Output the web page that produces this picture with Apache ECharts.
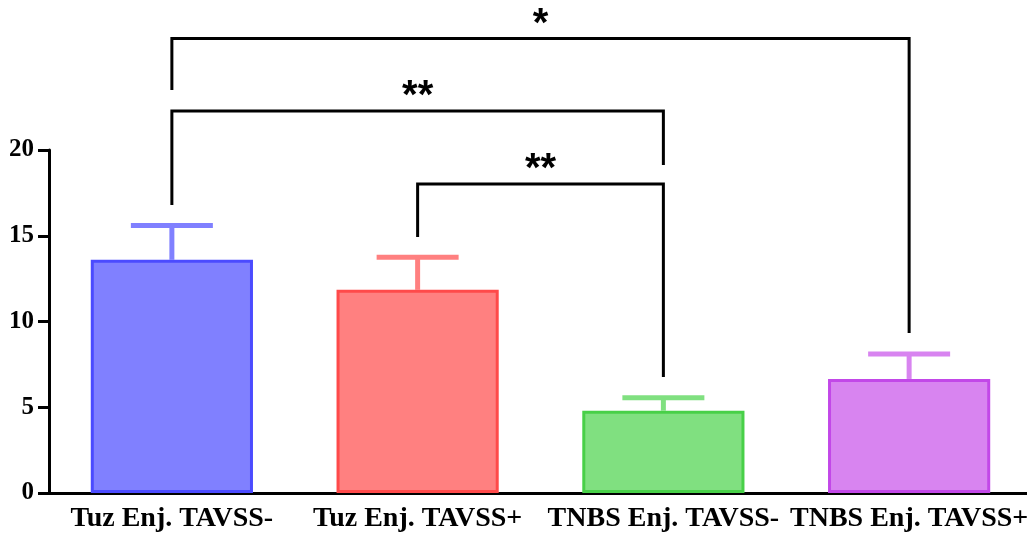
<!DOCTYPE html>
<html>
<head>
<meta charset="utf-8">
<script src="https://cdn.jsdelivr.net/npm/echarts@6/dist/echarts.min.js"></script>
<style>html,body{margin:0;padding:0;background:#fff;overflow:hidden}#c{width:1036px;height:542px}</style>
</head>
<body>
<div id="c"></div>
<script>
const categories = ['Tuz Enj. TAVSS-', 'Tuz Enj. TAVSS+', 'TNBS Enj. TAVSS-', 'TNBS Enj. TAVSS+'];
const means = [13.6, 11.85, 4.8, 6.65];
const errors = [2.0, 1.9, 0.75, 1.45];
const fillColors = ['#8080FF', '#FF8080', '#80E080', '#D884F0'];
const borderColors = ['#4B4BFF', '#FF4A4A', '#48D048', '#C248E8'];
// significance brackets
const bracketFrom = [0, 0, 1];
const bracketTo = [3, 2, 2];
const bracketLevel = [26.5, 22.27, 18.02];
const bracketLeftEnd = [23.5, 16.8, 14.93];
const bracketRightEnd = [9.33, 19.13, 6.76];
const bracketLabels = ['*', '**', '**'];

const chart = echarts.init(document.getElementById('c'));
const black = '#000';
chart.setOption({
  animation: false,
  grid: { left: 49, top: 150, width: 983, bottom: 49, containLabel: false },
  xAxis: {
    type: 'category', data: categories,
    axisLine: { lineStyle: { color: black, width: 3 } },
    axisTick: { alignWithLabel: true, length: 8, lineStyle: { color: black, width: 3 } },
    axisLabel: { interval: 0, color: black, fontFamily: 'Liberation Serif', fontWeight: 'bold', fontSize: 28, margin: 12 }
  },
  yAxis: {
    type: 'value', min: 0, max: 20, interval: 5,
    splitLine: { show: false },
    axisLine: { show: true, lineStyle: { color: black, width: 3 } },
    axisTick: { show: true, length: 11, lineStyle: { color: black, width: 3 } },
    axisLabel: { color: black, fontFamily: 'Liberation Serif', fontWeight: 'bold', fontSize: 25, margin: 15 }
  },
  series: [
    {
      type: 'bar', barWidth: '66%',
      data: means.map((v, i) => ({ value: v, itemStyle: { color: fillColors[i], borderColor: borderColors[i], borderWidth: 3 } }))
    },
    {
      type: 'custom', z: 1,
      data: means.map((v, i) => [i, v, errors[i]]),
      renderItem: function (params, api) {
        const i = api.value(0);
        const base = api.coord([i, api.value(1)]);
        const top = api.coord([i, api.value(1) + api.value(2)]);
        const col = fillColors[i];
        const half = 41;
        return {
          type: 'group', children: [
            { type: 'line', shape: { x1: base[0], y1: base[1], x2: top[0], y2: top[1] }, style: { stroke: col, lineWidth: 5 } },
            { type: 'line', shape: { x1: top[0] - half, y1: top[1], x2: top[0] + half, y2: top[1] }, style: { stroke: col, lineWidth: 5 } }
          ]
        };
      }
    },
    {
      type: 'custom', clip: false,
      data: bracketFrom.map((f, k) => [f, bracketTo[k], bracketLevel[k], bracketLeftEnd[k], bracketRightEnd[k], k]),
      renderItem: function (params, api) {
        const a = api.value(0), b = api.value(1), lvl = api.value(2);
        const k = api.value(5);
        const pA = api.coord([a, lvl]);
        const pB = api.coord([b, lvl]);
        const eA = api.coord([a, api.value(3)]);
        const eB = api.coord([b, api.value(4)]);
        const st = { stroke: black, lineWidth: 3, fill: null };
        return {
          type: 'group', children: [
            { type: 'polyline', shape: { points: [[eA[0], eA[1]], [pA[0], pA[1]], [pB[0], pB[1]], [eB[0], eB[1]]] }, style: st },
            { type: 'text', style: { text: bracketLabels[k], x: (pA[0] + pB[0]) / 2, y: pA[1] - 14, align: 'center', verticalAlign: 'middle', fill: black, font: 'bold 40px "Liberation Sans"' } }
          ]
        };
      }
    }
  ]
});
</script>
</body>
</html>
